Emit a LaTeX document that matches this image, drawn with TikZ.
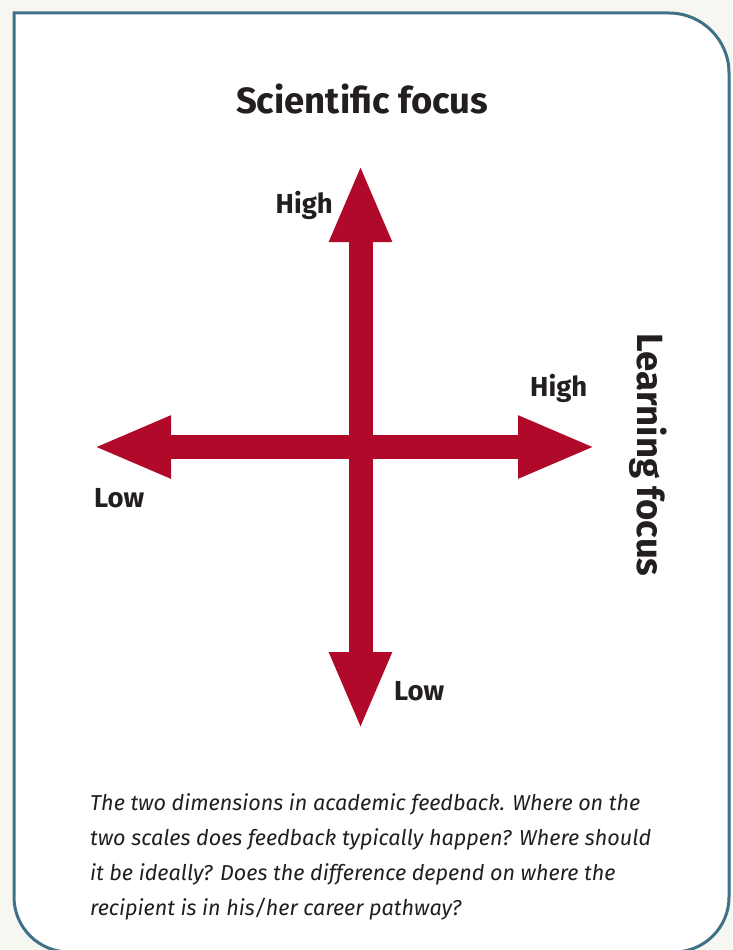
\documentclass[tikz,border=0pt]{standalone}
\usepackage{fontspec}
\setmainfont{Fira Sans}
\usetikzlibrary{arrows.meta}
\definecolor{axisred}{HTML}{B0092A}
\definecolor{frameblue}{HTML}{3F7189}
\definecolor{pagebg}{HTML}{F7F7F2}
\definecolor{ink}{HTML}{231F20}
\begin{document}
\begin{tikzpicture}[x=1pt,y=1pt,
  axis/.style={draw=axisred, line width=24pt,
    {Triangle[length=78pt,width=57pt,fill=axisred]}-{Triangle[length=78pt,width=57pt,fill=axisred]}},
  title/.style={font=\fontsize{36.5}{42}\selectfont\bfseries, text=ink, inner sep=0pt},
  lbl/.style={font=\fontsize{27.5}{32}\selectfont\bfseries, text=ink, inner sep=0pt},
  caption/.style={font=\fontsize{21.6}{35}\selectfont\itshape, text=ink, inner sep=0pt, align=left}]
\fill[pagebg] (0,0) rectangle (732,-950);
\useasboundingbox (0,0) rectangle (732,-950);
\draw[frameblue, line width=3pt, fill=white]
  (14,-13) -- (669,-13) arc[start angle=90,end angle=0,radius=60]
  -- (729,-897) arc[start angle=0,end angle=-90,radius=55]
  -- (69,-952) arc[start angle=270,end angle=180,radius=55] -- cycle;
\coordinate (top) at (360.5,-164);
\coordinate (bottom) at (360.5,-730);
\coordinate (left) at (93,-447);
\coordinate (right) at (596,-447);
\draw[axis] (left) -- (right);
\draw[axis] (bottom) -- (top);
\node[title, anchor=base] (sci) at (362,-113) {Scientific focus};
\node[title, rotate=-90, anchor=center] (learn) at (648,-455) {Learning focus};
\node[lbl, anchor=base east] (hightop) at (333,-213) {High};
\node[lbl, anchor=base west] (highright) at (530,-396) {High};
\node[lbl, anchor=base west] (lowleft) at (94,-507) {Low};
\node[lbl, anchor=base west] (lowbottom) at (394,-700) {Low};
\node[caption, anchor=north west] (cap) at (90,-793) {The two dimensions in academic feedback. Where on the\\
two scales does feedback typically happen? Where should\\
it be ideally? Does the difference depend on where the\\
recipient is in his/her career pathway?};
\end{tikzpicture}
\end{document}
